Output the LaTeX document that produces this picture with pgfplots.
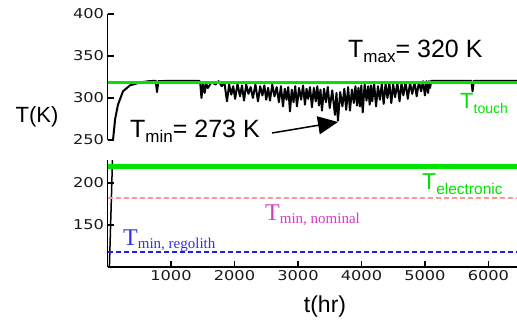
\documentclass[border=0pt]{standalone}
\usepackage{fontspec}
\setmainfont{Liberation Sans}
\newfontfamily\serifont{Liberation Serif}
\newfontfamily\tickfont[FakeStretch=1.2]{DejaVu Sans}
\usepackage{pgfplots}
\pgfplotsset{compat=1.18}
\usetikzlibrary{arrows.meta}
\definecolor{tgreen}{RGB}{0,228,0}
\definecolor{tpink}{RGB}{255,150,150}
\definecolor{tblue}{RGB}{30,30,235}
\definecolor{tmag}{RGB}{210,60,200}
\definecolor{tbluetext}{RGB}{50,50,225}
\newcommand{\sub}[3][-5pt]{\raisebox{#1}{\fontsize{#2}{#2}\selectfont #3}}
\begin{document}
\begin{tikzpicture}[x=1pt,y=1pt]
\path[use as bounding box] (0pt,0pt) rectangle (517pt,322pt);
\pgfplotsset{
  myax/.style={
    anchor=south west, scale only axis, width=409.5pt,
    xmin=0, xmax=6450,
    tick align=inside, major tick length=6pt,
    every tick/.style={black, line width=1.2pt},
    axis line style={line width=1.5pt},
    ticklabel style={font=\tickfont\fontsize{13.5}{14}\selectfont, text=black!90},
    /pgf/number format/assume math mode=true,
    /pgf/number format/1000 sep={},
  }
}
\begin{axis}[myax, at={(107.5pt,182pt)}, height=126pt,
  ymin=250, ymax=400, axis x line=none, axis y line*=left,
  ytick={250,300,350,400}]
\addplot[black, line width=2pt, line join=round] coordinates {
(87,250) (120,275) (165,292) (244,308) (354,315) (512,318.5) (650,320) (760,320.5) (780,307) (800,320) (1000,320.5) (1200,320.5) (1440,320.5)
(1460,319)(1480,300)(1505,318)(1530,306)(1555,317)(1580,312)(1640,319)(1700,316)(1750,320)(1800,314)(1840,319)(1882,296)(1916,316)(1950,304)(1980,314)(2010,299)(2048,317)(2087,302)(2118,315)(2150,297)(2185,316)(2220,305)(2255,313)(2290,300)(2330,316)(2370,296)(2405,314)(2440,303)(2470,315)(2500,298)(2530,312)(2559,297)(2595,316)(2630,302)(2665,313)(2700,295)(2732,314)(2764,290)(2792,311)(2820,298)(2847,313)(2874,284)(2902,310)(2930,295)(2957,314)(2984,290)(3017,312)(3050,298)(3080,315)(3110,292)(3135,311)(3160,299)(3190,313)(3220,289)(3250,312)(3280,296)(3305,314)(3330,291)(3354,310)(3378,285)(3410,311)(3440,295)(3470,313)(3500,288)(3540,309)(3583,280)(3606,306)(3630,273)(3665,307)(3700,290)(3730,311)(3760,286)(3790,313)(3819,285)(3850,310)(3880,294)(3905,314)(3930,291)(3953,312)(3976,290)(3998,315)(4020,283)(4050,316)(4080,297)(4105,314)(4130,292)(4150,315)(4170,296)(4200,317)(4230,290)(4260,314)(4290,298)(4320,316)(4350,293)(4380,317)(4410,300)(4440,318)(4470,294)(4500,316)(4530,301)(4565,318)(4600,296)(4630,317)(4660,303)(4695,319)(4730,299)(4765,318)(4800,305)(4835,319)(4870,302)(4905,319)(4940,308)(4970,320)(5000,303)(5025,320)(5050,306)(5065,320)(5080,312)(5100,320.5)
(5400,320.5)(5730,320.5)(5750,308)(5770,320.5)(6450,320.5)
};
\addplot[tgreen, line width=2.2pt] coordinates {(0,318.5) (6450,318.5)};
\end{axis}
\begin{axis}[myax, at={(107.5pt,55pt)}, height=107pt,
  ymin=100, ymax=227.4, axis x line*=bottom, axis y line*=left,
  ytick={150,200}, xtick={1000,2000,3000,4000,5000,6000}]
\addplot[black, line width=1.5pt] coordinates {(30,100) (87,250)};
\addplot[tgreen, line width=5pt] coordinates {(0,220) (6450,220)};
\addplot[tpink, line width=1.3pt, dash pattern=on 5pt off 3pt] coordinates {(0,182) (6450,182)};
\addplot[tblue, line width=1.3pt, dash pattern=on 5pt off 3pt] coordinates {(0,118) (6450,118)};
\end{axis}
% labels
\node[font=\fontsize{22}{24}\selectfont] at (37pt,205pt) {T(K)};
\node[font=\fontsize{23}{24}\selectfont] at (325pt,15pt) {t(hr)};
\node[anchor=base west, inner sep=0, font=\fontsize{25}{26}\selectfont] at (348pt,264pt) {T\sub{17}{max}= 320 K};
\node[anchor=base west, inner sep=0, font=\fontsize{25}{26}\selectfont] at (130pt,185pt) {T\sub{17}{min}= 273 K};
\draw[line width=1.5pt, -{Triangle[length=20pt,width=18pt]}] (272pt,189pt) -- (338pt,200pt);
\node[anchor=base west, inner sep=0, text=tgreen, font=\fontsize{22}{24}\selectfont] at (460pt,213pt) {T\sub{14}{touch}};
\node[anchor=base west, inner sep=0, text=tgreen, font=\fontsize{23}{24}\selectfont] at (422pt,133pt) {T\sub{15.5}{electronic}};
\node[anchor=base west, inner sep=0, text=tmag, font=\serifont\fontsize{24}{24}\selectfont] at (265pt,102pt) {T\sub[-3pt]{15}{min, nominal}};
\node[anchor=base west, inner sep=0, text=tbluetext, font=\serifont\fontsize{24}{24}\selectfont] at (123pt,77pt) {T\sub[-3pt]{15}{min, regolith}};
\end{tikzpicture}
\end{document}
